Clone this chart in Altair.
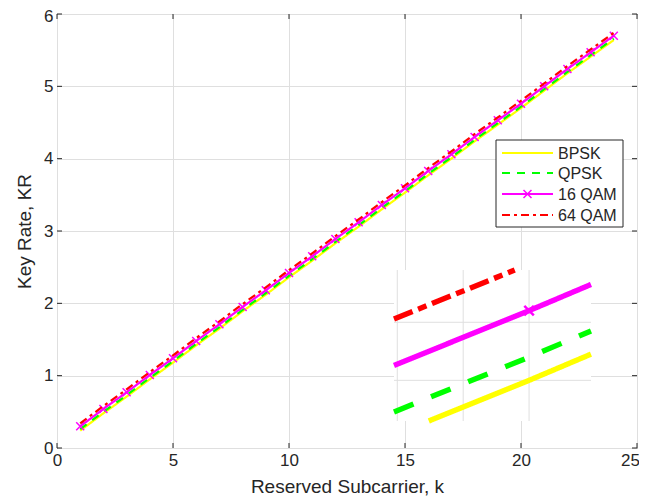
import altair as alt
import pandas as pd

# ---------------- data ----------------
K = [1, 2, 3, 4, 5, 6, 7, 8, 9, 10, 11, 12, 13, 14, 15, 16, 17, 18, 19, 20, 21, 22, 23, 24]
BPSK = [0.24, 0.48, 0.71, 0.95, 1.18, 1.42, 1.65, 1.89, 2.12, 2.36, 2.59, 2.83,
        3.06, 3.30, 3.53, 3.77, 4.00, 4.24, 4.47, 4.70, 4.94, 5.18, 5.41, 5.64]
QPSK = [0.26, 0.50, 0.73, 0.97, 1.20, 1.44, 1.67, 1.91, 2.14, 2.38, 2.61, 2.85,
        3.08, 3.32, 3.55, 3.79, 4.02, 4.26, 4.49, 4.72, 4.96, 5.20, 5.43, 5.66]
QAM16 = [0.30, 0.54, 0.77, 1.01, 1.24, 1.48, 1.71, 1.95, 2.18, 2.42, 2.65, 2.89,
         3.12, 3.36, 3.59, 3.83, 4.06, 4.30, 4.53, 4.76, 5.00, 5.24, 5.47, 5.70]
QAM64 = [0.34, 0.58, 0.81, 1.05, 1.28, 1.52, 1.75, 1.99, 2.22, 2.46, 2.69, 2.93,
         3.16, 3.40, 3.63, 3.87, 4.10, 4.34, 4.57, 4.80, 5.04, 5.28, 5.51, 5.74]

SERIES = ["BPSK", "QPSK", "16 QAM", "64 QAM"]
VALUES = [BPSK, QPSK, QAM16, QAM64]
MARKERS = [False, False, True, False]

X_TICKS = [0, 5, 10, 15, 20, 25]
Y_TICKS = [0, 1, 2, 3, 4, 5, 6]

# zoomed inset (region around k = 20)
INSET_X_GRID = [19.8, 19.9, 20.0]
INSET_Y_GRID = [4.70, 4.75]
INSET_X_DOMAIN = [19.795, 20.094]
INSET_Y_DOMAIN = [4.665, 4.795]

# ---------------- styles / layout ----------------
COLORS = ["#ffff00", "#00ff00", "#ff00ff", "#ff0000"]
DASH_MAIN = [[1, 0], [8, 7], [1, 0], [8, 4, 3, 4]]
DASH_INSET = [[1, 0], [21, 19], [1, 0], [20, 6, 9, 6]]
FONT = "Liberation Sans"
TXT = "#262626"
GRID = "#dfdfdf"
W, H = 580, 434
X_PATH = "M-1,-1L1,1M-1,1L1,-1"

# inset box in plot-area pixels
IN_X0, IN_X1, IN_Y0, IN_Y1 = 337, 534, 256, 407
# legend box in plot-area pixels
LG_X0, LG_X1, LG_Y0, LG_Y1 = 439, 566, 126, 213
LG_ROWS = [139, 159, 180, 201]
LG_SYM0, LG_SYM1, LG_TXT = 445, 496, 501

xs = alt.Scale(domain=[0, 25], nice=False, zero=False)
ys = alt.Scale(domain=[0, 6], nice=False, zero=False)

x_axis = alt.Axis(values=X_TICKS, title="Reserved Subcarrier, k", grid=True, gridColor=GRID,
                  gridWidth=1, ticks=False, tickSize=0, domain=False, labelFont=FONT,
                  labelFontSize=17, labelColor=TXT, labelPadding=4, labelFlush=False,
                  labelOverlap=False,
                  labelOffset={"condition": {"test": "datum.value >= 25", "value": -7}, "value": 0},
                  titleFont=FONT, titleFontSize=19, titleFontWeight="normal",
                  titleColor=TXT, titleBaseline="alphabetic", titleY=44, format="d")
y_axis = alt.Axis(values=Y_TICKS, title="Key Rate, KR", grid=True, gridColor=GRID,
                  gridWidth=1, ticks=False, tickSize=0, domain=False, labelFont=FONT,
                  labelFontSize=17, labelColor=TXT, labelPadding=4, labelFlush=False,
                  labelOverlap=False,
                  labelOffset={"condition": {"test": "datum.value >= 6", "value": 2}, "value": 0},
                  titleFont=FONT, titleFontSize=19, titleFontWeight="normal",
                  titleColor=TXT, titleBaseline="alphabetic", titleAlign="center",
                  titleX=-27, titleY=H / 2, format="d")

main_layers = []

# main series
for name, vals, col, dash, mk in zip(SERIES, VALUES, COLORS, DASH_MAIN, MARKERS):
    df = pd.DataFrame({"k": K, "v": vals})
    main_layers.append(
        alt.Chart(df).mark_line(color=col, strokeWidth=2.2, strokeDash=dash).encode(
            x=alt.X("k:Q", scale=xs, axis=x_axis),
            y=alt.Y("v:Q", scale=ys, axis=y_axis),
        )
    )
    if mk:
        main_layers.append(
            alt.Chart(df).mark_point(shape=X_PATH, size=64, filled=False, stroke=col,
                                     strokeWidth=1.5, opacity=1).encode(
                x=alt.X("k:Q", scale=xs, axis=x_axis),
                y=alt.Y("v:Q", scale=ys, axis=y_axis),
            )
        )

# inward ticks on all four sides
xt = pd.DataFrame({"t": X_TICKS})
yt = pd.DataFrame({"t": Y_TICKS})
for ya, yb in ((H, H - 5), (0, 5)):
    main_layers.append(
        alt.Chart(xt).mark_rule(color=TXT, strokeWidth=1).encode(
            x=alt.X("t:Q", scale=xs, axis=x_axis), y=alt.value(ya), y2=alt.value(yb))
    )
for xa, xb in ((0, 5), (W, W - 5)):
    main_layers.append(
        alt.Chart(yt).mark_rule(color=TXT, strokeWidth=1).encode(
            y=alt.Y("t:Q", scale=ys, axis=y_axis), x=alt.value(xa), x2=alt.value(xb))
    )

one = pd.DataFrame({"a": [0]})
# inset background
main_layers.append(
    alt.Chart(one).mark_rect(fill="white").encode(
        x=alt.value(IN_X0), x2=alt.value(IN_X1), y=alt.value(IN_Y0), y2=alt.value(IN_Y1))
)
# legend box
main_layers.append(
    alt.Chart(one).mark_rect(fill="white", stroke=TXT, strokeWidth=1).encode(
        x=alt.value(LG_X0), x2=alt.value(LG_X1), y=alt.value(LG_Y0), y2=alt.value(LG_Y1))
)
for name, col, dash, mk, ry in zip(SERIES, COLORS, DASH_MAIN, MARKERS, LG_ROWS):
    main_layers.append(
        alt.Chart(one).mark_rule(color=col, strokeWidth=2.2, strokeDash=dash).encode(
            x=alt.value(LG_SYM0), x2=alt.value(LG_SYM1), y=alt.value(ry))
    )
    if mk:
        main_layers.append(
            alt.Chart(one).mark_point(shape=X_PATH, size=64, filled=False, stroke=col,
                                      strokeWidth=1.5, opacity=1).encode(
                x=alt.value((LG_SYM0 + LG_SYM1) / 2), y=alt.value(ry))
        )
    main_layers.append(
        alt.Chart(one).mark_text(text=name, align="left", baseline="middle", font=FONT,
                                 fontSize=16, color=TXT).encode(
            x=alt.value(LG_TXT), y=alt.value(ry + 1))
    )

main = alt.layer(*main_layers)

# ---------------- inset ----------------
ixs = alt.Scale(domain=INSET_X_DOMAIN, range=[IN_X0, IN_X1], nice=False, zero=False)
iys = alt.Scale(domain=INSET_Y_DOMAIN, range=[IN_Y1, IN_Y0], nice=False, zero=False)


def clip(x0, y0, x1, y1, xmin, xmax, ymin, ymax):
    dx, dy = x1 - x0, y1 - y0
    t0, t1 = 0.0, 1.0
    for p, q in ((-dx, x0 - xmin), (dx, xmax - x0), (-dy, y0 - ymin), (dy, ymax - y0)):
        if p == 0:
            if q < 0:
                return None
        else:
            r = q / p
            if p < 0:
                t0 = max(t0, r)
            else:
                t1 = min(t1, r)
    if t0 > t1:
        return None
    return (x0 + t0 * dx, y0 + t0 * dy, x0 + t1 * dx, y0 + t1 * dy)


inset_layers = []
inset_layers.append(
    alt.Chart(pd.DataFrame({"g": INSET_X_GRID})).mark_rule(color=GRID, strokeWidth=1).encode(
        x=alt.X("g:Q", scale=ixs, axis=None), y=alt.value(IN_Y0), y2=alt.value(IN_Y1))
)
inset_layers.append(
    alt.Chart(pd.DataFrame({"g": INSET_Y_GRID})).mark_rule(color=GRID, strokeWidth=1).encode(
        y=alt.Y("g:Q", scale=iys, axis=None), x=alt.value(IN_X0), x2=alt.value(IN_X1))
)
for name, vals, col, dash, mk in zip(SERIES, VALUES, COLORS, DASH_INSET, MARKERS):
    pts = []
    for i in range(len(K) - 1):
        c = clip(K[i], vals[i], K[i + 1], vals[i + 1],
                 INSET_X_DOMAIN[0], INSET_X_DOMAIN[1], INSET_Y_DOMAIN[0], INSET_Y_DOMAIN[1])
        if c is None:
            continue
        if not pts or abs(pts[-1][0] - c[0]) > 1e-9:
            pts.append((c[0], c[1]))
        pts.append((c[2], c[3]))
    if pts:
        df = pd.DataFrame({"k": [p[0] for p in pts], "v": [p[1] for p in pts],
                           "o": list(range(len(pts)))})
        inset_layers.append(
            alt.Chart(df).mark_line(color=col, strokeWidth=5.4, strokeDash=dash).encode(
                x=alt.X("k:Q", scale=ixs, axis=None), y=alt.Y("v:Q", scale=iys, axis=None),
                order="o:Q")
        )
    if mk:
        mdf = pd.DataFrame({"k": K, "v": vals})
        mdf = mdf[(mdf.k >= INSET_X_DOMAIN[0]) & (mdf.k <= INSET_X_DOMAIN[1]) &
                  (mdf.v >= INSET_Y_DOMAIN[0]) & (mdf.v <= INSET_Y_DOMAIN[1])]
        inset_layers.append(
            alt.Chart(mdf).mark_point(shape=X_PATH, size=90, filled=False, stroke=col,
                                      strokeWidth=2.5, opacity=1).encode(
                x=alt.X("k:Q", scale=ixs, axis=None), y=alt.Y("v:Q", scale=iys, axis=None))
        )

inset = alt.layer(*inset_layers)

chart = (
    alt.layer(main, inset)
    .resolve_scale(x="independent", y="independent")
    .properties(width=W, height=H, autosize=alt.AutoSizeParams(type="none"),
                padding={"left": 49, "top": 6, "right": 2, "bottom": 48},
                background="white")
    .configure_view(stroke=TXT, strokeWidth=1)
)

chart.save("out.html", embed_options={"renderer": "svg", "actions": False})
